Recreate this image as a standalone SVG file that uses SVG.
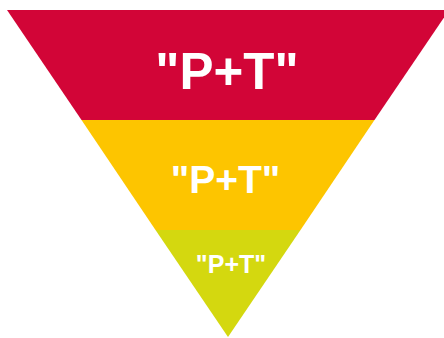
<svg xmlns="http://www.w3.org/2000/svg" width="444" height="338" viewBox="0 0 444 338">
<style>
.t{font-family:"Liberation Sans",Arial,sans-serif;font-weight:bold;fill:#fff;text-anchor:middle}
</style>
<rect width="444" height="338" fill="#fff"/>
<g id="top">
<polygon points="7,10 449,10 374.5,120 81.5,120" fill="#D20537"/>
<text class="t" x="227" y="89" font-size="51">"P+T"</text>
</g>
<g id="middle">
<polygon points="81.5,120 374.5,120 300.5,230 155.5,230" fill="#FDC500"/>
<text class="t" x="225.5" y="193" font-size="39">"P+T"</text>
</g>
<g id="bottom">
<polygon points="155.5,230 300.5,230 228,337" fill="#D4D80F"/>
<text class="t" x="231" y="273" font-size="25">"P+T"</text>
</g>
</svg>
